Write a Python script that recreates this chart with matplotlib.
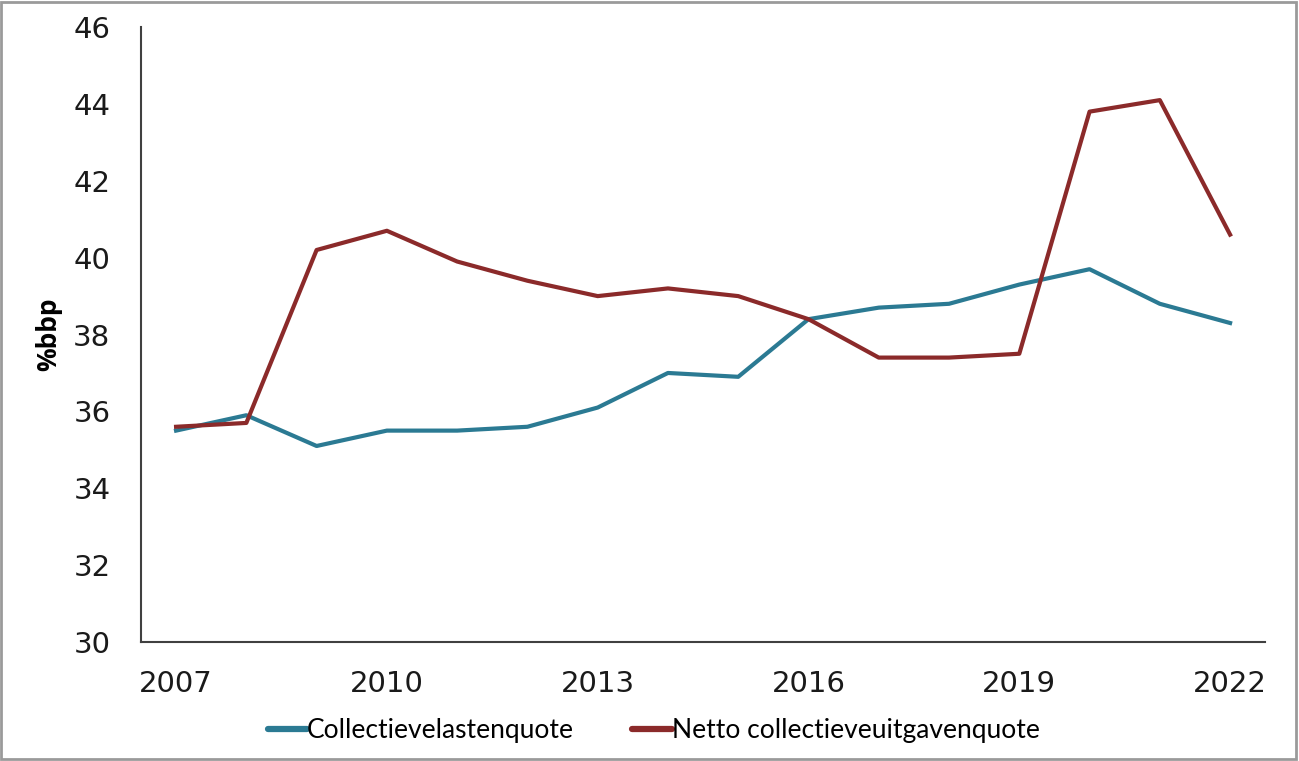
import matplotlib
matplotlib.use("Agg")
import matplotlib.pyplot as plt
from matplotlib.patches import Rectangle

years = list(range(2007, 2023))
lasten = [35.5, 35.9, 35.1, 35.5, 35.5, 35.6, 36.1, 37.0, 36.9, 38.4, 38.7, 38.8, 39.3, 39.7, 38.8, 38.3]
uitgaven = [35.6, 35.7, 40.2, 40.7, 39.9, 39.4, 39.0, 39.2, 39.0, 38.4, 37.4, 37.4, 37.5, 43.8, 44.1, 40.6]
xticks = [2007, 2010, 2013, 2016, 2019, 2022]
yticks = list(range(30, 47, 2))

TICK_FONT = ["DejaVu Sans"]
LEG_FONT = ["Lato", "Open Sans", "DejaVu Sans"]

fig = plt.figure(figsize=(12.99, 7.61), dpi=100)
ax = fig.add_axes([0.1085, 0.1564, 0.8655, 0.808])

ax.plot(years, lasten, color="#2B7A93", lw=3, label="Collectievelastenquote")
ax.plot(years, uitgaven, color="#8B2A2A", lw=3, label="Netto collectieveuitgavenquote")

ax.set_xlim(2006.5, 2022.5)
ax.set_ylim(30, 46)
ax.set_xticks(xticks)
ax.set_yticks(yticks)
ax.tick_params(axis="x", length=0, pad=20)
ax.tick_params(axis="y", length=0, pad=22)
for lab in ax.get_xticklabels() + ax.get_yticklabels():
    lab.set_family(TICK_FONT)
    lab.set_fontsize(21)
    lab.set_color("#1a1a1a")

for side in ["top", "right"]:
    ax.spines[side].set_visible(False)
for side in ["left", "bottom"]:
    ax.spines[side].set_color("#404040")
    ax.spines[side].set_linewidth(1.5)

ax.set_ylabel("%bbp", fontsize=19, fontweight="bold", family=["Open Sans", "DejaVu Sans"], labelpad=8)

leg = ax.legend(loc="upper center", bbox_to_anchor=(0.456, -0.085), ncol=2, frameon=False,
                prop={"family": LEG_FONT, "size": 19}, handlelength=1.5, handletextpad=0.0,
                columnspacing=2.2)
for line in leg.get_lines():
    line.set_linewidth(4.5)
    line.set_solid_capstyle("round")

# thin grey border around the whole figure
fig.patches.append(Rectangle((0.001, 0.002), 0.997, 0.996, transform=fig.transFigure,
                             fill=False, edgecolor="#9a9a9a", lw=2))

fig.savefig("out.png", dpi=100)
